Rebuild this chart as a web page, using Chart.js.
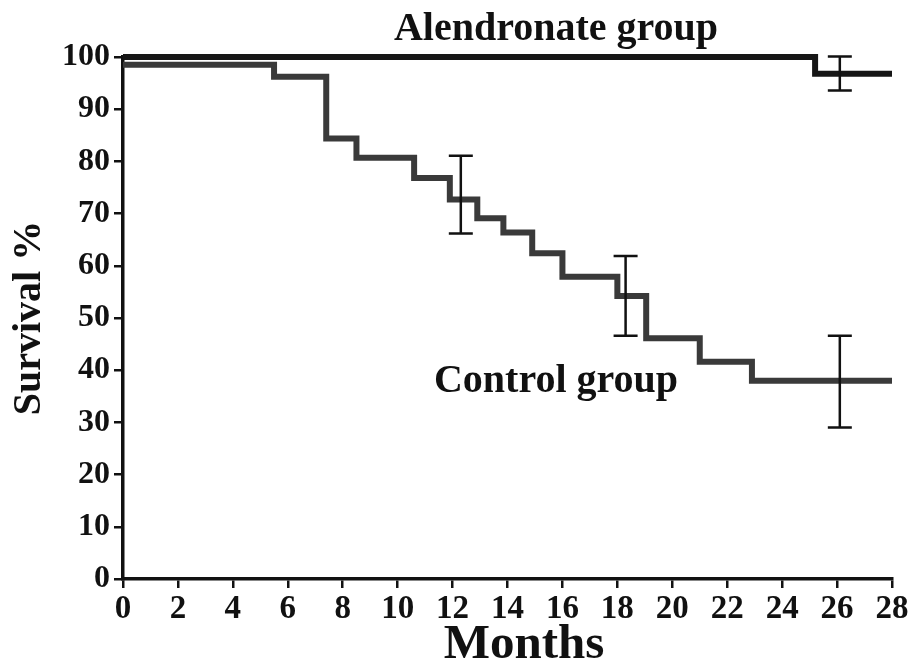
<!DOCTYPE html>
<html>
<head>
<meta charset="utf-8">
<script src="https://cdn.jsdelivr.net/npm/chart.js@4/dist/chart.umd.min.js"></script>
<style>
  body { margin: 0; background: #fff; }
  #wrap { width: 911px; height: 668px; position: relative; }
</style>
</head>
<body>
<div id="wrap"><canvas id="survivalChart"></canvas></div>
<script>
// months at which the curve steps, and survival % after the step
const alendMonths = [0, 25.2, 28];
const alendSurvival = [100, 96.8, 96.8];

const controlMonths = [0, 5.5, 7.4, 8.5, 10.6, 11.9, 12.9, 13.85, 14.9, 16.0, 18.0, 19.05, 21.0, 22.9, 28];
const controlSurvival = [98.5, 96.2, 84.4, 80.7, 76.8, 72.7, 69.1, 66.4, 62.4, 57.9, 54.2, 46.1, 41.6, 38, 38];

// error bars (confidence limits)
const errMonths = [26.1, 12.3, 18.3, 26.1];
const errLow = [93.6, 66.2, 46.6, 29.0];
const errHigh = [100.1, 81.1, 61.9, 46.6];

const xTicks = [0, 2, 4, 6, 8, 10, 12, 14, 16, 18, 20, 22, 24, 26, 28];
const yTicks = [0, 10, 20, 30, 40, 50, 60, 70, 80, 90, 100];

const serif = '"Liberation Serif", "DejaVu Serif", serif';

const toPoints = (xs, ys) => xs.map((x, i) => ({ x: x, y: ys[i] }));

const errorBars = {
    id: 'errorBars',
    afterDatasetsDraw(chart) {
        const { ctx, scales: { x, y } } = chart;
        ctx.save();
        ctx.strokeStyle = '#111';
        ctx.lineWidth = 2.5;
        errMonths.forEach((m, i) => {
            const px = x.getPixelForValue(m);
            const top = y.getPixelForValue(errHigh[i]);
            const bot = y.getPixelForValue(errLow[i]);
            ctx.beginPath();
            ctx.moveTo(px, top); ctx.lineTo(px, bot);
            ctx.moveTo(px - 12, top); ctx.lineTo(px + 12, top);
            ctx.moveTo(px - 12, bot); ctx.lineTo(px + 12, bot);
            ctx.stroke();
        });
        ctx.restore();
    }
};

// group names and the x-axis title
const groupLabels = {
    id: 'groupLabels',
    afterDraw(chart) {
        const ctx = chart.ctx;
        ctx.save();
        ctx.fillStyle = '#111';
        ctx.font = 'bold 40px ' + serif;
        ctx.textAlign = 'center';
        ctx.textBaseline = 'middle';
        ctx.fillText('Alendronate group', 556, 30);
        ctx.fillText('Control group', 556, 382);
        ctx.font = 'bold 49px ' + serif;
        ctx.fillText('Months', 524, 645);
        ctx.restore();
    }
};

new Chart(document.getElementById('survivalChart'), {
    type: 'line',
    data: {
        datasets: [{
            label: 'Alendronate group',
            data: toPoints(alendMonths, alendSurvival),
            stepped: true,
            borderColor: '#161616',
            borderWidth: 6,
            pointRadius: 0,
            clip: false
        }, {
            label: 'Control group',
            data: toPoints(controlMonths, controlSurvival),
            stepped: true,
            borderColor: '#3a3a3a',
            borderWidth: 6,
            pointRadius: 0,
            clip: false
        }]
    },
    options: {
        responsive: true,
        maintainAspectRatio: false,
        animation: false,
        layout: { padding: { top: 57, right: 19, left: 0, bottom: 0 } },
        plugins: {
            legend: { display: false },
            tooltip: { enabled: false }
        },
        scales: {
            x: {
                type: 'linear',
                min: 0,
                max: 28,
                afterBuildTicks: s => { s.ticks = xTicks.map(v => ({ value: v })); },
                afterFit: s => { s.height = 89; },
                grid: { drawOnChartArea: false, drawTicks: true, tickLength: 9, color: '#111', lineWidth: 2.5 },
                border: { display: true, color: '#111', width: 3.5 },
                ticks: { color: '#111', padding: 2, maxRotation: 0, font: { family: serif, size: 33, weight: 'bold' } }
            },
            y: {
                min: 0,
                max: 100,
                afterBuildTicks: s => { s.ticks = yTicks.map(v => ({ value: v })); },
                afterFit: s => { s.width = 123; },
                grid: { drawOnChartArea: false, drawTicks: true, tickLength: 9, color: '#111', lineWidth: 2.5 },
                border: { display: true, color: '#111', width: 3.5 },
                ticks: { color: '#111', padding: 4, font: { family: serif, size: 32, weight: 'bold' } },
                title: { display: true, text: 'Survival %', color: '#111', padding: { top: 10, bottom: 0 }, font: { family: serif, size: 40, weight: 'bold', lineHeight: 1 } }
            }
        }
    },
    plugins: [errorBars, groupLabels]
});
</script>
</body>
</html>
